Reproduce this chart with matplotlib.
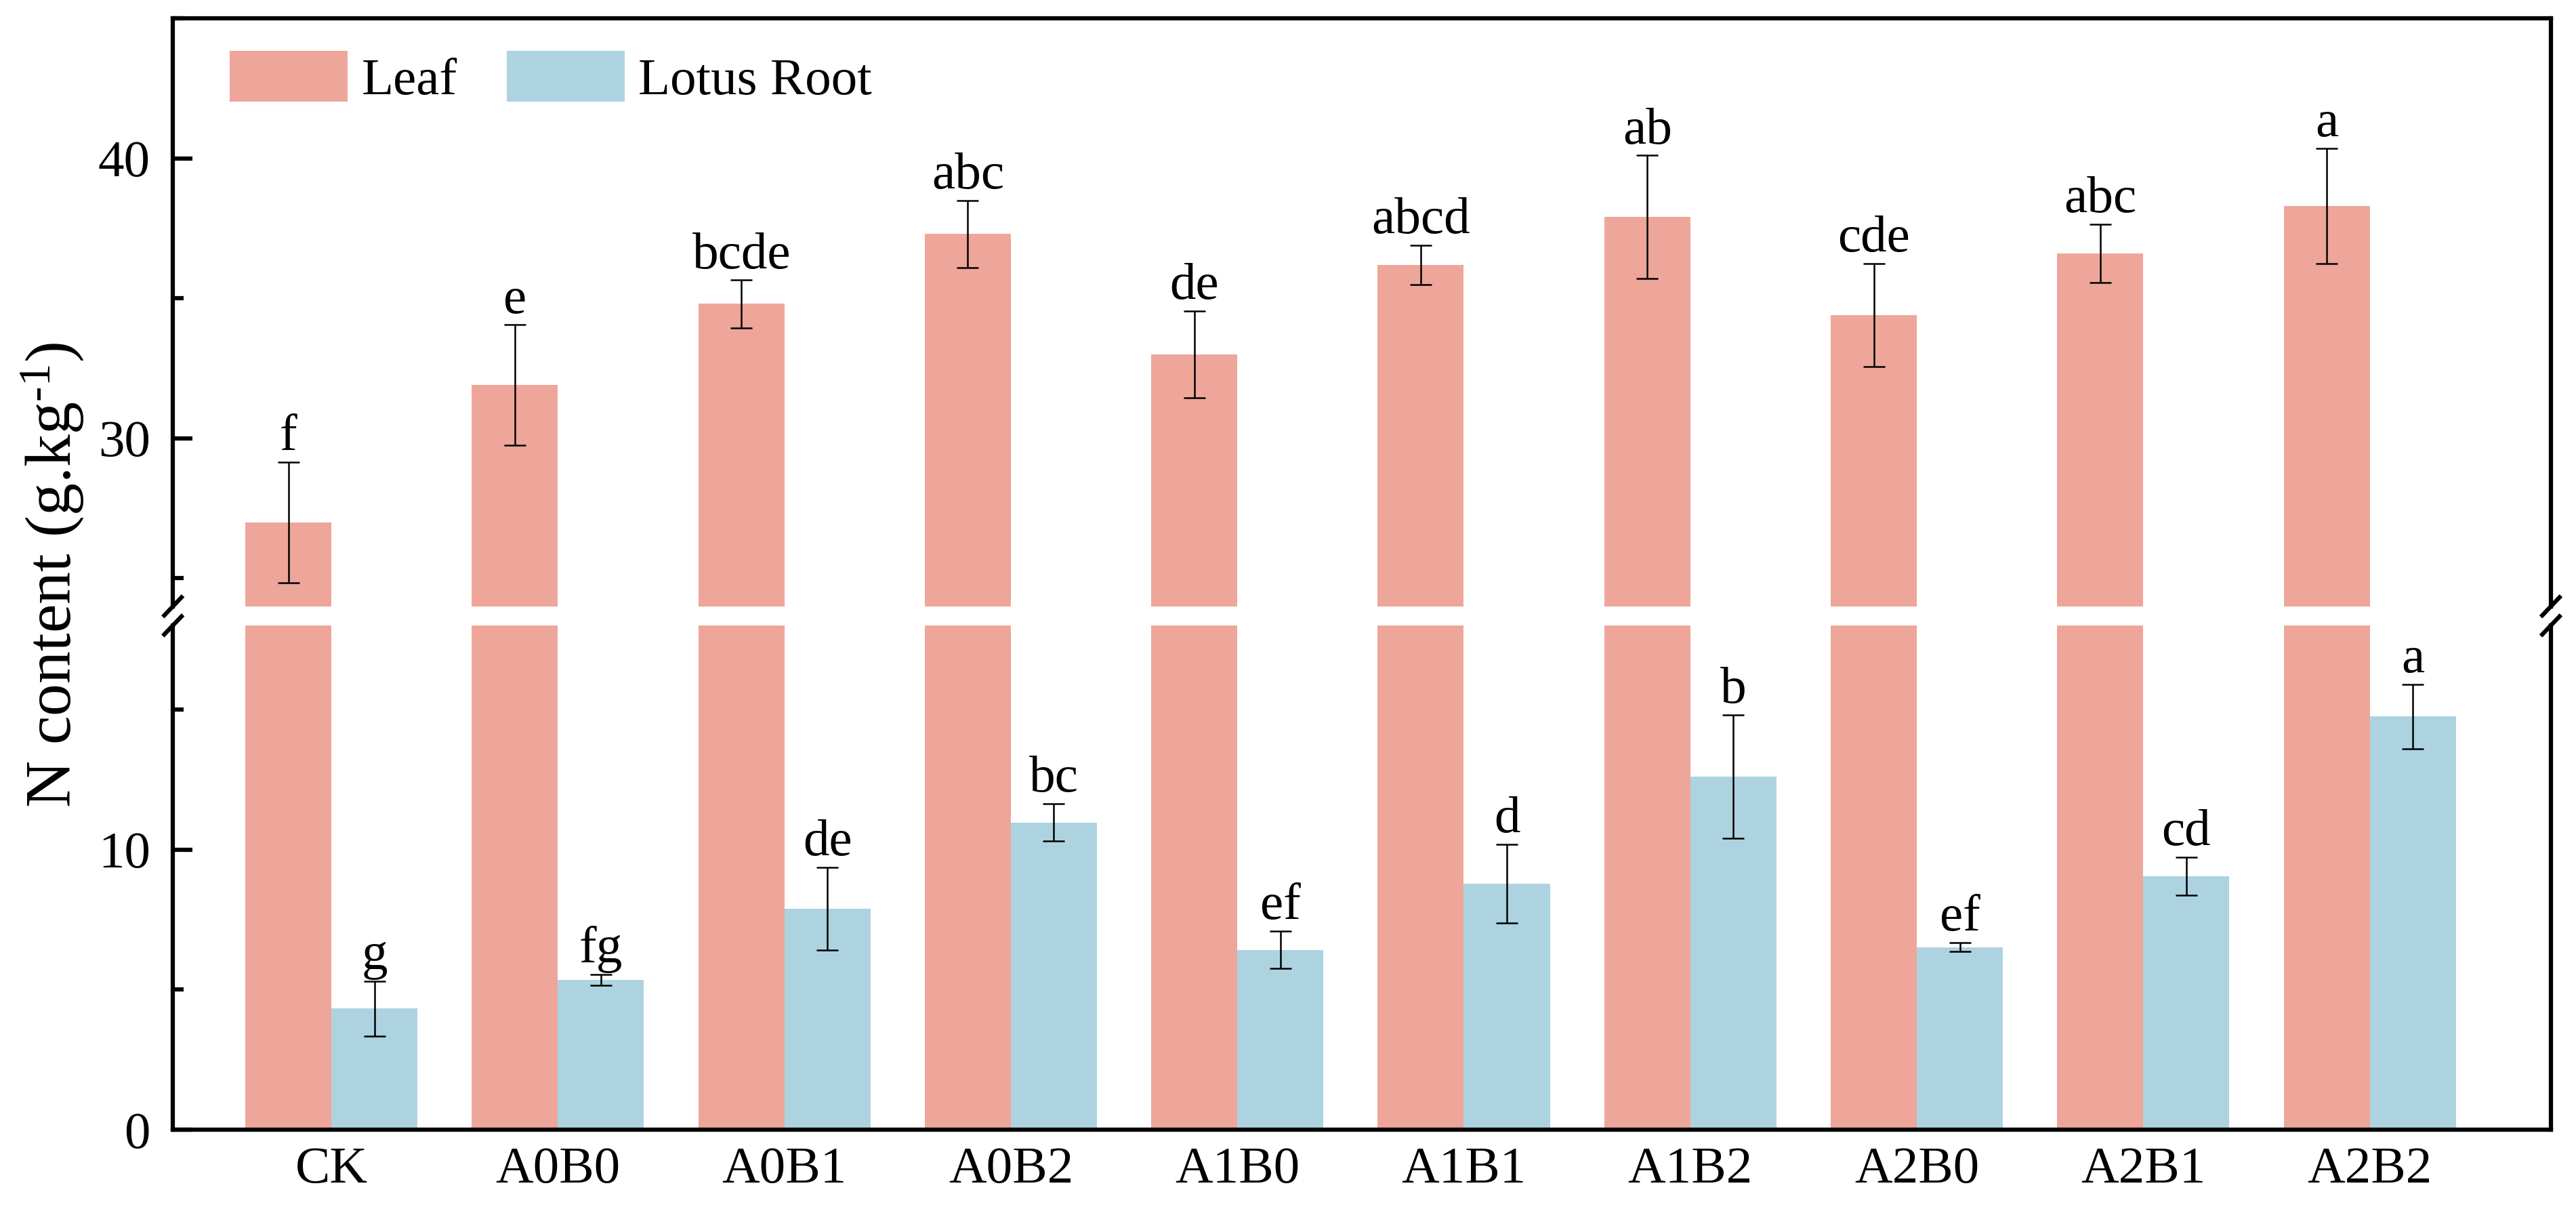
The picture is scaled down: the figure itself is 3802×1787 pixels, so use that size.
import matplotlib
matplotlib.use('Agg')
from matplotlib import pyplot as plt
from matplotlib.ticker import MultipleLocator
import numpy as np

plt.rcParams['font.family'] = ['Liberation Serif', 'DejaVu Serif']
plt.rcParams['mathtext.fontset'] = 'custom'
plt.rcParams['mathtext.rm'] = 'Liberation Serif'
plt.rcParams['mathtext.it'] = 'Liberation Serif:italic'

groups = ['CK', 'A0B0', 'A0B1', 'A0B2', 'A1B0', 'A1B1', 'A1B2', 'A2B0', 'A2B1', 'A2B2']
leaf = [27.0, 31.9, 34.8, 37.3, 33.0, 36.2, 37.9, 34.4, 36.6, 38.3]
leaf_err = [2.15, 2.15, 0.85, 1.2, 1.55, 0.7, 2.2, 1.85, 1.05, 2.05]
leaf_sig = ['f', 'e', 'bcde', 'abc', 'de', 'abcd', 'ab', 'cde', 'abc', 'a']
root = [4.32, 5.35, 7.88, 10.97, 6.42, 8.78, 12.6, 6.51, 9.04, 14.75]
root_err = [0.98, 0.2, 1.48, 0.67, 0.67, 1.4, 2.2, 0.16, 0.68, 1.15]
root_sig = ['g', 'fg', 'de', 'bc', 'ef', 'd', 'b', 'ef', 'cd', 'a']

leaf_color = '#EEA69A'
root_color = '#ADD3E0'
fs = 18.5
lw = 1.5
w = 0.38
x = np.arange(len(groups))

fig = plt.figure(figsize=(3803 / 300, 1787 / 300), dpi=300)
left, width = 0.0671, 0.9229
ax_top = fig.add_axes([left, 0.4993, width, 0.4856])
ax_bot = fig.add_axes([left, 0.06715, width, 0.4164])

for ax in (ax_top, ax_bot):
  ax.bar(x - w / 2, leaf, w, color=leaf_color, label='Leaf', zorder=1)
  ax.bar(x + w / 2, root, w, color=root_color, label='Lotus Root', zorder=1)
  ax.set_xlim(-0.7, 9.8)
  ax.yaxis.set_major_locator(MultipleLocator(10))
  ax.yaxis.set_minor_locator(MultipleLocator(5))
  ax.tick_params(axis='y', which='major', direction='in', length=7, width=lw,
                 labelsize=fs, pad=8, right=False)
  ax.tick_params(axis='y', which='minor', direction='in', length=3.8, width=lw, right=False)
  for s in ax.spines.values():
    s.set_linewidth(lw)

ax_top.set_ylim(24, 45)
ax_bot.set_ylim(0, 18)
ax_top.spines['bottom'].set_visible(False)
ax_bot.spines['top'].set_visible(False)
ax_top.tick_params(axis='x', which='both', bottom=False, top=False, labelbottom=False)
ax_bot.set_xticks(x)
ax_bot.set_xticklabels(groups)
ax_bot.tick_params(axis='x', which='both', length=0, labelsize=fs, pad=6, top=False)

ekw = dict(fmt='none', ecolor='black', elinewidth=0.6, capsize=3.85, capthick=0.6, zorder=3)
ax_top.errorbar(x - w / 2, leaf, yerr=leaf_err, **ekw)
ax_bot.errorbar(x + w / 2, root, yerr=root_err, **ekw)

off = 0.43
for i in range(len(groups)):
  ax_top.text(x[i] - w / 2, leaf[i] + leaf_err[i] + off, leaf_sig[i],
              ha='center', va='baseline', fontsize=fs)
  ax_bot.text(x[i] + w / 2, root[i] + root_err[i] + off, root_sig[i],
              ha='center', va='baseline', fontsize=fs)

# break marks on both spines
dx = 0.00363
for ax, dy, yy in ((ax_top, 0.0154, 0), (ax_bot, 0.0179, 1)):
  kw = dict(transform=ax.transAxes, color='black', lw=lw, clip_on=False)
  for xx in (0, 1):
    ax.plot([xx - dx, xx + dx], [yy - dy, yy + dy], **kw)

ax_top.legend(loc='upper left', bbox_to_anchor=(0.024, 0.945), ncol=2, frameon=False,
              fontsize=fs, handlelength=2.25, handleheight=1.13, handletextpad=0.27,
              columnspacing=0.95, borderpad=0, borderaxespad=0)

fig.text(0.0205, 0.5255, r'N content (g.kg$^{\text{-1}}$)', rotation=90, ha='center',
         va='center', fontsize=23)

fig.savefig('out.png', dpi=300)
